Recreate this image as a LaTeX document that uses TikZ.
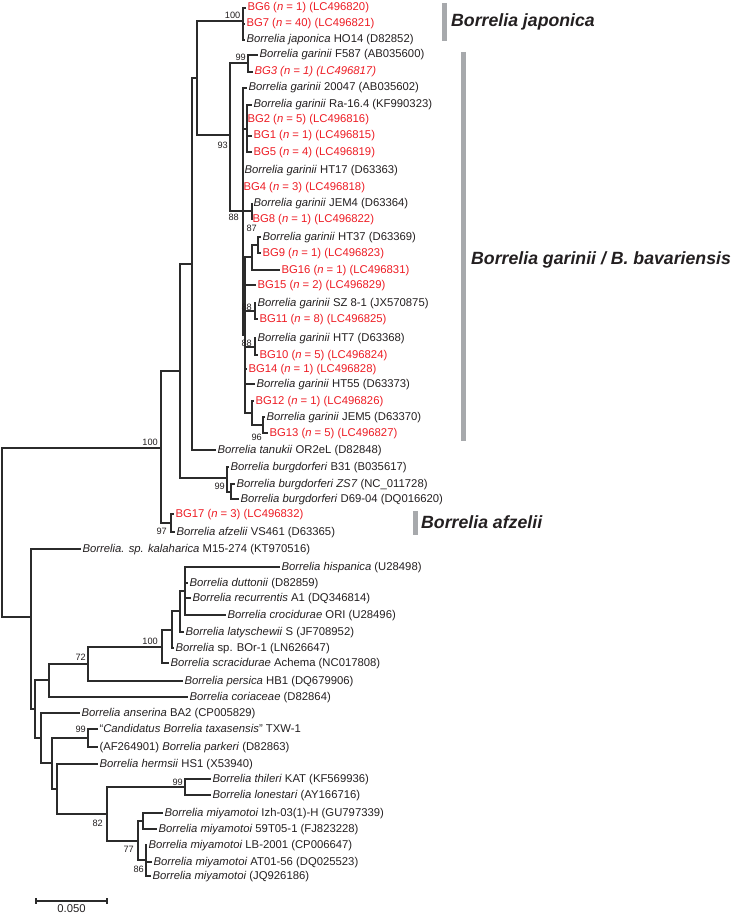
\documentclass[tikz,border=0pt]{standalone}
\usepackage{fontspec}
\setmainfont{Liberation Sans}
\begin{document}
\begin{tikzpicture}[x=1pt, y=-1pt,
    branch/.style={draw=lineColour, line width=1.1pt},
    leaf/.style={anchor=west, inner xsep=1.5pt, inner ysep=0pt, outer sep=0pt,
        text height=7.6pt, text depth=1.6pt, text=labelColour,
        font=\fontsize{11.3}{13}\selectfont},
    iso/.style={leaf, text=isoColour},
    boot/.style={anchor=east, inner sep=0pt, text=labelColour,
        font=\fontsize{9.2}{10}\selectfont},
    cladebar/.style={draw=barColour, line width=5pt},
    clade/.style={anchor=west, inner sep=0pt, text=cladeColour,
        font=\fontsize{17.7}{20}\selectfont\bfseries\itshape}]
    % Define colours
    \definecolor{lineColour}{HTML}{2B2B2B}
    \definecolor{labelColour}{HTML}{231F20}
    \definecolor{isoColour}{HTML}{ED1C24}
    \definecolor{barColour}{HTML}{A7A9AC}
    \definecolor{cladeColour}{HTML}{231F20}

    % Label of an isolate
    \def\isolate#1#2#3{BG#1 (\textit{n} = #2) (#3)}

    \useasboundingbox (0,0) rectangle (733,915);

    % Leaves: Lyme group
    \node[iso]  (bgsix)      at (246,8)   {\isolate{6}{1}{LC496820}};
    \node[iso]  (bgseven)    at (245,24)  {\isolate{7}{40}{LC496821}};
    \node[leaf] (japHO)      at (245,40)  {\textit{Borrelia japonica} HO14 (D82852)};
    \node[leaf] (garF)       at (258,55)  {\textit{Borrelia garinii} F587 (AB035600)};
    \node[iso]  (bgthree)    at (253,72)  {\textit{\isolate{3}{1}{LC496817}}};
    \node[leaf] (garA)       at (247,88)  {\textit{Borrelia garinii} 20047 (AB035602)};
    \node[leaf] (garRa)      at (252,105) {\textit{Borrelia garinii} Ra-16.4 (KF990323)};
    \node[iso]  (bgtwo)      at (246,119) {\isolate{2}{5}{LC496816}};
    \node[iso]  (bgone)      at (252,136) {\isolate{1}{1}{LC496815}};
    \node[iso]  (bgfive)     at (252,152) {\isolate{5}{4}{LC496819}};
    \node[leaf] (garHTa)     at (243,170) {\textit{Borrelia garinii} HT17 (D63363)};
    \node[iso]  (bgfour)     at (242,187) {\isolate{4}{3}{LC496818}};
    \node[leaf] (garJEMa)    at (252,203) {\textit{Borrelia garinii} JEM4 (D63364)};
    \node[iso]  (bgeight)    at (251,219) {\isolate{8}{1}{LC496822}};
    \node[leaf] (garHTb)     at (261,237) {\textit{Borrelia garinii} HT37 (D63369)};
    \node[iso]  (bgnine)     at (261,253) {\isolate{9}{1}{LC496823}};
    \node[iso]  (bgsixteen)  at (280,270) {\isolate{16}{1}{LC496831}};
    \node[iso]  (bgfifteen)  at (256,285) {\isolate{15}{2}{LC496829}};
    \node[leaf] (garSZ)      at (256,303) {\textit{Borrelia garinii} SZ 8-1 (JX570875)};
    \node[iso]  (bgeleven)   at (258,319) {\isolate{11}{8}{LC496825}};
    \node[leaf] (garHTc)     at (256,338) {\textit{Borrelia garinii} HT7 (D63368)};
    \node[iso]  (bgten)      at (258,355) {\isolate{10}{5}{LC496824}};
    \node[iso]  (bgfourteen) at (247,369) {\isolate{14}{1}{LC496828}};
    \node[leaf] (garHTd)     at (255,384) {\textit{Borrelia garinii} HT55 (D63373)};
    \node[iso]  (bgtwelve)   at (254,401) {\isolate{12}{1}{LC496826}};
    \node[leaf] (garJEMb)    at (265,417) {\textit{Borrelia garinii} JEM5 (D63370)};
    \node[iso]  (bgthirteen) at (268,433) {\isolate{13}{5}{LC496827}};
    \node[leaf] (tanOR)      at (216,450) {\textit{Borrelia tanukii} OR2eL (D82848)};
    \node[leaf] (burB)       at (229,467) {\textit{Borrelia burgdorferi} B31 (B035617)};
    \node[leaf] (burZ)       at (235,484) {\textit{Borrelia burgdorferi ZS7} (NC\_011728)};
    \node[leaf] (burD)       at (239,499) {\textit{Borrelia burgdorferi} D69-04 (DQ016620)};
    \node[iso]  (bgseventeen) at (174,514) {\isolate{17}{3}{LC496832}};
    \node[leaf] (afzVS)      at (175,532) {\textit{Borrelia afzelii} VS461 (D63365)};

    % Leaves: relapsing fever group
    \node[leaf] (kalM)    at (81,549)  {\textit{Borrelia. sp. kalaharica} M15-274 (KT970516)};
    \node[leaf] (hispU)   at (280,567) {\textit{Borrelia hispanica} (U28498)};
    \node[leaf] (duttD)   at (188,583) {\textit{Borrelia duttonii} (D82859)};
    \node[leaf] (recA)    at (191,598) {\textit{Borrelia recurrentis} A1 (DQ346814)};
    \node[leaf] (crocORI) at (226,615) {\textit{Borrelia crocidurae} ORI (U28496)};
    \node[leaf] (latS)    at (184,632) {\textit{Borrelia latyschewii} S (JF708952)};
    \node[leaf] (spBOr)   at (174,648) {\textit{Borrelia} sp. BOr-1 (LN626647)};
    \node[leaf] (scrAch)  at (169,663) {\textit{Borrelia scracidurae} Achema (NC017808)};
    \node[leaf] (persHB)  at (183,681) {\textit{Borrelia persica} HB1 (DQ679906)};
    \node[leaf] (coriaD)  at (188,697) {\textit{Borrelia coriaceae} (D82864)};
    \node[leaf] (ansBA)   at (80,713)  {\textit{Borrelia anserina} BA2 (CP005829)};
    \node[leaf] (candTXW) at (98,729)  {``\textit{Candidatus Borrelia taxasensis}'' TXW-1};
    \node[leaf] (parkD)   at (98,747)  {(AF264901) \textit{Borrelia parkeri} (D82863)};
    \node[leaf] (hermHS)  at (98,764)  {\textit{Borrelia hermsii} HS1 (X53940)};
    \node[leaf] (thilKAT) at (211,779) {\textit{Borrelia thileri} KAT (KF569936)};
    \node[leaf] (loneAY)  at (211,795) {\textit{Borrelia lonestari} (AY166716)};
    \node[leaf] (miyIzh)  at (163,813) {\textit{Borrelia miyamotoi} Izh-03(1)-H (GU797339)};
    \node[leaf] (miyFJ)   at (157,829) {\textit{Borrelia miyamotoi} 59T05-1 (FJ823228)};
    \node[leaf] (miyLB)   at (147,845) {\textit{Borrelia miyamotoi} LB-2001 (CP006647)};
    \node[leaf] (miyAT)   at (152,862) {\textit{Borrelia miyamotoi} AT01-56 (DQ025523)};
    \node[leaf] (miyJQ)   at (151,876) {\textit{Borrelia miyamotoi} (JQ926186)};

    % Internal nodes
    \coordinate (root) at (2,538);
    \coordinate (L)  at (161,448);
    \coordinate (C)  at (180,371);
    \coordinate (B)  at (192,264);
    \coordinate (A)  at (197,78);
    \coordinate (J)  at (243,21);
    \coordinate (N93) at (230,135);
    \coordinate (V)  at (248,63);
    \coordinate (P)  at (243,211);
    \coordinate (T)  at (247,129);
    \coordinate (U)  at (252,211);
    \coordinate (Q)  at (245,335);
    \coordinate (N87) at (252,257);
    \coordinate (W)  at (258,245);
    \coordinate (X)  at (255,311);
    \coordinate (Y)  at (255,347);
    \coordinate (R)  at (252,413);
    \coordinate (S)  at (263,425);
    \coordinate (Bu) at (227,478);
    \coordinate (Bz) at (231,492);
    \coordinate (Af) at (171,523);
    \coordinate (Rf) at (31,617);
    \coordinate (Hh) at (35,709);
    \coordinate (Ff) at (49,680);
    \coordinate (Ee) at (88,664);
    \coordinate (Na) at (162,647);
    \coordinate (Nb) at (172,630);
    \coordinate (Nc) at (180,611);
    \coordinate (Nd) at (185,591);
    \coordinate (Ii) at (41,738);
    \coordinate (Kk) at (52,763);
    \coordinate (Cd) at (88,738);
    \coordinate (Ll) at (57,789);
    \coordinate (M82) at (107,814);
    \coordinate (Tl) at (185,787);
    \coordinate (M77) at (138,841);
    \coordinate (Mm) at (143,821);
    \coordinate (M86) at (146,860);

    % Draw branches
    \foreach \c in {L,Rf} \draw[branch] (root) |- (\c);
    \foreach \c in {C,Af} \draw[branch] (L) |- (\c);
    \foreach \c in {B,Bu} \draw[branch] (C) |- (\c);
    \foreach \c in {A,tanOR} \draw[branch] (B) |- (\c);
    \foreach \c in {J,N93} \draw[branch] (A) |- (\c);
    \foreach \c in {bgsix,bgseven,japHO} \draw[branch] (J) |- (\c);
    \foreach \c in {V,P} \draw[branch] (N93) |- (\c);
    \foreach \c in {garF,bgthree} \draw[branch] (V) |- (\c);
    \foreach \c in {garA,T,garHTa,bgfour,U,Q} \draw[branch] (P) |- (\c);
    \foreach \c in {garRa,bgtwo,bgone,bgfive} \draw[branch] (T) |- (\c);
    \foreach \c in {garJEMa,bgeight} \draw[branch] (U) |- (\c);
    \foreach \c in {N87,bgfifteen,X,Y,bgfourteen,garHTd,R} \draw[branch] (Q) |- (\c);
    \foreach \c in {W,bgsixteen} \draw[branch] (N87) |- (\c);
    \foreach \c in {garHTb,bgnine} \draw[branch] (W) |- (\c);
    \foreach \c in {garSZ,bgeleven} \draw[branch] (X) |- (\c);
    \foreach \c in {garHTc,bgten} \draw[branch] (Y) |- (\c);
    \foreach \c in {bgtwelve,S} \draw[branch] (R) |- (\c);
    \foreach \c in {garJEMb,bgthirteen} \draw[branch] (S) |- (\c);
    \foreach \c in {burB,Bz} \draw[branch] (Bu) |- (\c);
    \foreach \c in {burZ,burD} \draw[branch] (Bz) |- (\c);
    \foreach \c in {bgseventeen,afzVS} \draw[branch] (Af) |- (\c);
    \foreach \c in {kalM,Hh} \draw[branch] (Rf) |- (\c);
    \foreach \c in {Ff,Ii} \draw[branch] (Hh) |- (\c);
    \foreach \c in {Ee,coriaD} \draw[branch] (Ff) |- (\c);
    \foreach \c in {Na,persHB} \draw[branch] (Ee) |- (\c);
    \foreach \c in {Nb,scrAch} \draw[branch] (Na) |- (\c);
    \foreach \c in {Nc,spBOr} \draw[branch] (Nb) |- (\c);
    \foreach \c in {Nd,latS} \draw[branch] (Nc) |- (\c);
    \foreach \c in {hispU,duttD,recA,crocORI} \draw[branch] (Nd) |- (\c);
    \foreach \c in {ansBA,Kk} \draw[branch] (Ii) |- (\c);
    \foreach \c in {Cd,Ll} \draw[branch] (Kk) |- (\c);
    \foreach \c in {candTXW,parkD} \draw[branch] (Cd) |- (\c);
    \foreach \c in {hermHS,M82} \draw[branch] (Ll) |- (\c);
    \foreach \c in {Tl,M77} \draw[branch] (M82) |- (\c);
    \foreach \c in {thilKAT,loneAY} \draw[branch] (Tl) |- (\c);
    \foreach \c in {Mm,M86} \draw[branch] (M77) |- (\c);
    \foreach \c in {miyIzh,miyFJ} \draw[branch] (Mm) |- (\c);
    \foreach \c in {miyLB,miyAT,miyJQ} \draw[branch] (M86) |- (\c);

    % Bootstrap values
    \node[boot] (bJ)   at (240.5,15) {100};
    \node[boot] (bV)   at (246,57)   {99};
    \node[boot] (bN93) at (228,145)  {93};
    \node[boot] (bP)   at (239,217)  {88};
    \node[boot] (bW)   at (257,228)  {87};
    \node[boot] (bX)   at (252,307)  {88};
    \node[boot] (bY)   at (252,343)  {88};
    \node[boot] (bS)   at (262,437)  {96};
    \node[boot] (bL)   at (158,442)  {100};
    \node[boot] (bBu)  at (225,486)  {99};
    \node[boot] (bAf)  at (167,531)  {97};
    \node[boot] (bNa)  at (158,641)  {100};
    \node[boot] (bEe)  at (86,657)   {72};
    \node[boot] (bCd)  at (86,729)   {99};
    \node[boot] (bTl)  at (183,782)  {99};
    \node[boot] (bM82) at (103,823)  {82};
    \node[boot] (bM77) at (134,849)  {77};
    \node[boot] (bM86) at (144,869)  {86};

    % Clade bars and names
    \draw[cladebar] (444,3) -- (444,41);
    \node[clade] (japName) at (451,22) {Borrelia japonica};
    \draw[cladebar] (463,52) -- (463,441);
    \node[clade] (garName) at (471,260) {Borrelia garinii / B. bavariensis};
    \draw[cladebar] (415,511) -- (415,535);
    \node[clade] (afzName) at (421,522) {Borrelia afzelii};

    % Scale bar
    \coordinate (sbL) at (36,901);
    \coordinate (sbR) at (107,901);
    \draw[branch] (sbL) -- (sbR);
    \draw[branch] ([yshift=3pt]sbL) -- ([yshift=-3pt]sbL);
    \draw[branch] ([yshift=3pt]sbR) -- ([yshift=-3pt]sbR);
    \node[leaf, anchor=center] (sbText) at (71.5,909) {0.050};

\end{tikzpicture}
\end{document}
